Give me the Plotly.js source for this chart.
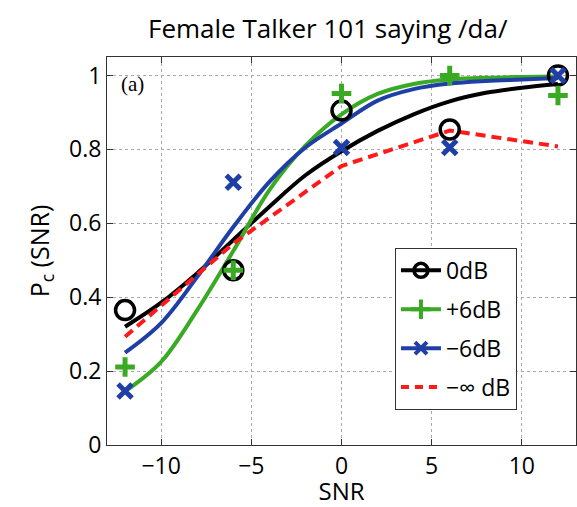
<!DOCTYPE html>
<html>
<head>
<meta charset="utf-8">
<script src="https://cdn.plot.ly/plotly-3.0.1.min.js"></script>
<style>html,body{margin:0;padding:0;background:#fff;}#plot{width:577px;height:507px;}</style>
</head>
<body>
<div id="plot"></div>
<script>
// Measured data points (SNR in dB)
const snrPoints = [-12, -6, 0, 6, 12];
const pc0dB   = [0.365, 0.473, 0.905, 0.854, 1.0];
const pcPlus6 = [0.211, 0.473, 0.951, 1.0, 0.946];
const pcMinus6 = [0.146, 0.711, 0.805, 0.805, 1.0];
const pcMinusInf = [0.293, 0.545, 0.755, 0.851, 0.808];

// Fitted curves
const snrFit = [-12, -10, -8, -6, -4, -2, 0, 2, 4, 6, 8, 10, 12];
const fit0dB    = [0.32, 0.385, 0.465, 0.555, 0.645, 0.73, 0.795, 0.85, 0.895, 0.93, 0.953, 0.967, 0.977];
const fitPlus6  = [0.145, 0.225, 0.365, 0.525, 0.69, 0.81, 0.895, 0.95, 0.977, 0.989, 0.994, 0.996, 0.997];
const fitMinus6 = [0.25, 0.33, 0.455, 0.59, 0.712, 0.805, 0.87, 0.932, 0.963, 0.978, 0.985, 0.989, 0.993];

const legendNames = ['0dB', '+6dB', '\u22126dB', '\u2212\u221e dB'];
const xTickVals = [-10, -5, 0, 5, 10];
const yTickVals = [0, 0.2, 0.4, 0.6, 0.8, 1];

const cBlack = '#000000', cGreen = '#3aaa24', cBlue = '#1f3fa6', cRed = '#ff1a1a';
const LW = 4;

const traces = [
  // fitted curves
  {x: snrFit, y: fit0dB, mode: 'lines', line: {color: cBlack, width: LW, shape: 'spline', smoothing: 1}, showlegend: false, hoverinfo: 'skip'},
  {x: snrFit, y: fitPlus6, mode: 'lines', line: {color: cGreen, width: LW, shape: 'spline', smoothing: 1}, showlegend: false, hoverinfo: 'skip'},
  {x: snrFit, y: fitMinus6, mode: 'lines', line: {color: cBlue, width: LW, shape: 'spline', smoothing: 1}, showlegend: false, hoverinfo: 'skip'},
  // -inf dB dashed
  {x: snrPoints, y: pcMinusInf, mode: 'lines', line: {color: cRed, width: LW, dash: '10px,6px'}, showlegend: false, hoverinfo: 'skip'},
  // markers
  {x: snrPoints, y: pc0dB, mode: 'markers', marker: {symbol: 'circle-open', size: 19, color: cBlack, line: {color: cBlack, width: 3.5}}, showlegend: false},
  {x: snrPoints, y: pcPlus6, mode: 'markers', marker: {symbol: 'cross-thin-open', size: 14, color: cGreen, line: {color: cGreen, width: 5}}, showlegend: false},
  {x: snrPoints, y: pcMinus6, mode: 'markers', marker: {symbol: 'x-thin-open', size: 14, color: cBlue, line: {color: cBlue, width: 5}}, showlegend: false},
  // legend entries
  {x: [null], y: [null], name: legendNames[0], legendgroup: 'a', mode: 'lines+markers', line: {color: cBlack, width: LW}, marker: {symbol: 'circle-open', size: 14, color: cBlack, line: {color: cBlack, width: 3.5}}},
  {x: [null], y: [null], name: legendNames[1], legendgroup: 'b', mode: 'lines+markers', line: {color: cGreen, width: LW}, marker: {symbol: 'cross-thin-open', size: 14, color: cGreen, line: {color: cGreen, width: 4}}},
  {x: [null], y: [null], name: legendNames[2], legendgroup: 'c', mode: 'lines+markers', line: {color: cBlue, width: LW}, marker: {symbol: 'x-thin-open', size: 12, color: cBlue, line: {color: cBlue, width: 4}}},
  {x: [null], y: [null], name: legendNames[3], legendgroup: 'd', mode: 'lines', line: {color: cRed, width: LW, dash: '8px,6px'}}
];

const font = 'Open Sans, Noto Sans, sans-serif';
const layout = {
  width: 577, height: 507,
  margin: {l: 107, r: 1, t: 57, b: 62},
  paper_bgcolor: '#fff', plot_bgcolor: '#fff',
  font: {family: font, color: '#000', size: 23},
  title: {text: 'Female Talker 101 saying /da/', font: {family: font, size: 26, color: '#000'}, x: 0.568, xref: 'container', xanchor: 'center', y: 0.943, yref: 'container', yanchor: 'middle'},
  xaxis: {
    range: [-13, 13], tickvals: xTickVals, ticks: 'inside', ticklen: 6, tickcolor: '#333',
    showline: true, linecolor: '#333', linewidth: 1, mirror: 'ticks',
    showgrid: true, gridcolor: '#aaa', griddash: 'dot', gridwidth: 1, zeroline: false,
    tickfont: {family: font, size: 23, color: '#000'},
    title: {text: 'SNR', font: {family: font, size: 24, color: '#000'}, standoff: 3}
  },
  yaxis: {
    range: [0, 1.05], tickvals: yTickVals, ticks: 'inside', ticklen: 6, tickcolor: '#333',
    showline: true, linecolor: '#333', linewidth: 1, mirror: 'ticks',
    showgrid: true, gridcolor: '#aaa', griddash: 'dot', gridwidth: 1, zeroline: false,
    tickfont: {family: font, size: 23, color: '#000'},
    title: {text: 'P<sub>c</sub> (SNR)', font: {family: font, size: 25, color: '#000'}, standoff: 12}
  },
  legend: {
    x: 0.614, y: 0.508, xanchor: 'left', yanchor: 'top',
    bgcolor: '#fff', bordercolor: '#333', borderwidth: 1,
    font: {family: font, size: 23, color: '#000'},
    tracegroupgap: 6, itemwidth: 40
  },
  annotations: [
    {text: '(a)', xref: 'paper', yref: 'paper', x: 0.026, y: 0.93, xanchor: 'left', yanchor: 'middle', showarrow: false,
     font: {family: 'Liberation Serif, DejaVu Serif, serif', size: 21, color: '#000'}}
  ],
  showlegend: true
};

Plotly.newPlot('plot', traces, layout, {displayModeBar: false, staticPlot: true});
</script>
</body>
</html>
